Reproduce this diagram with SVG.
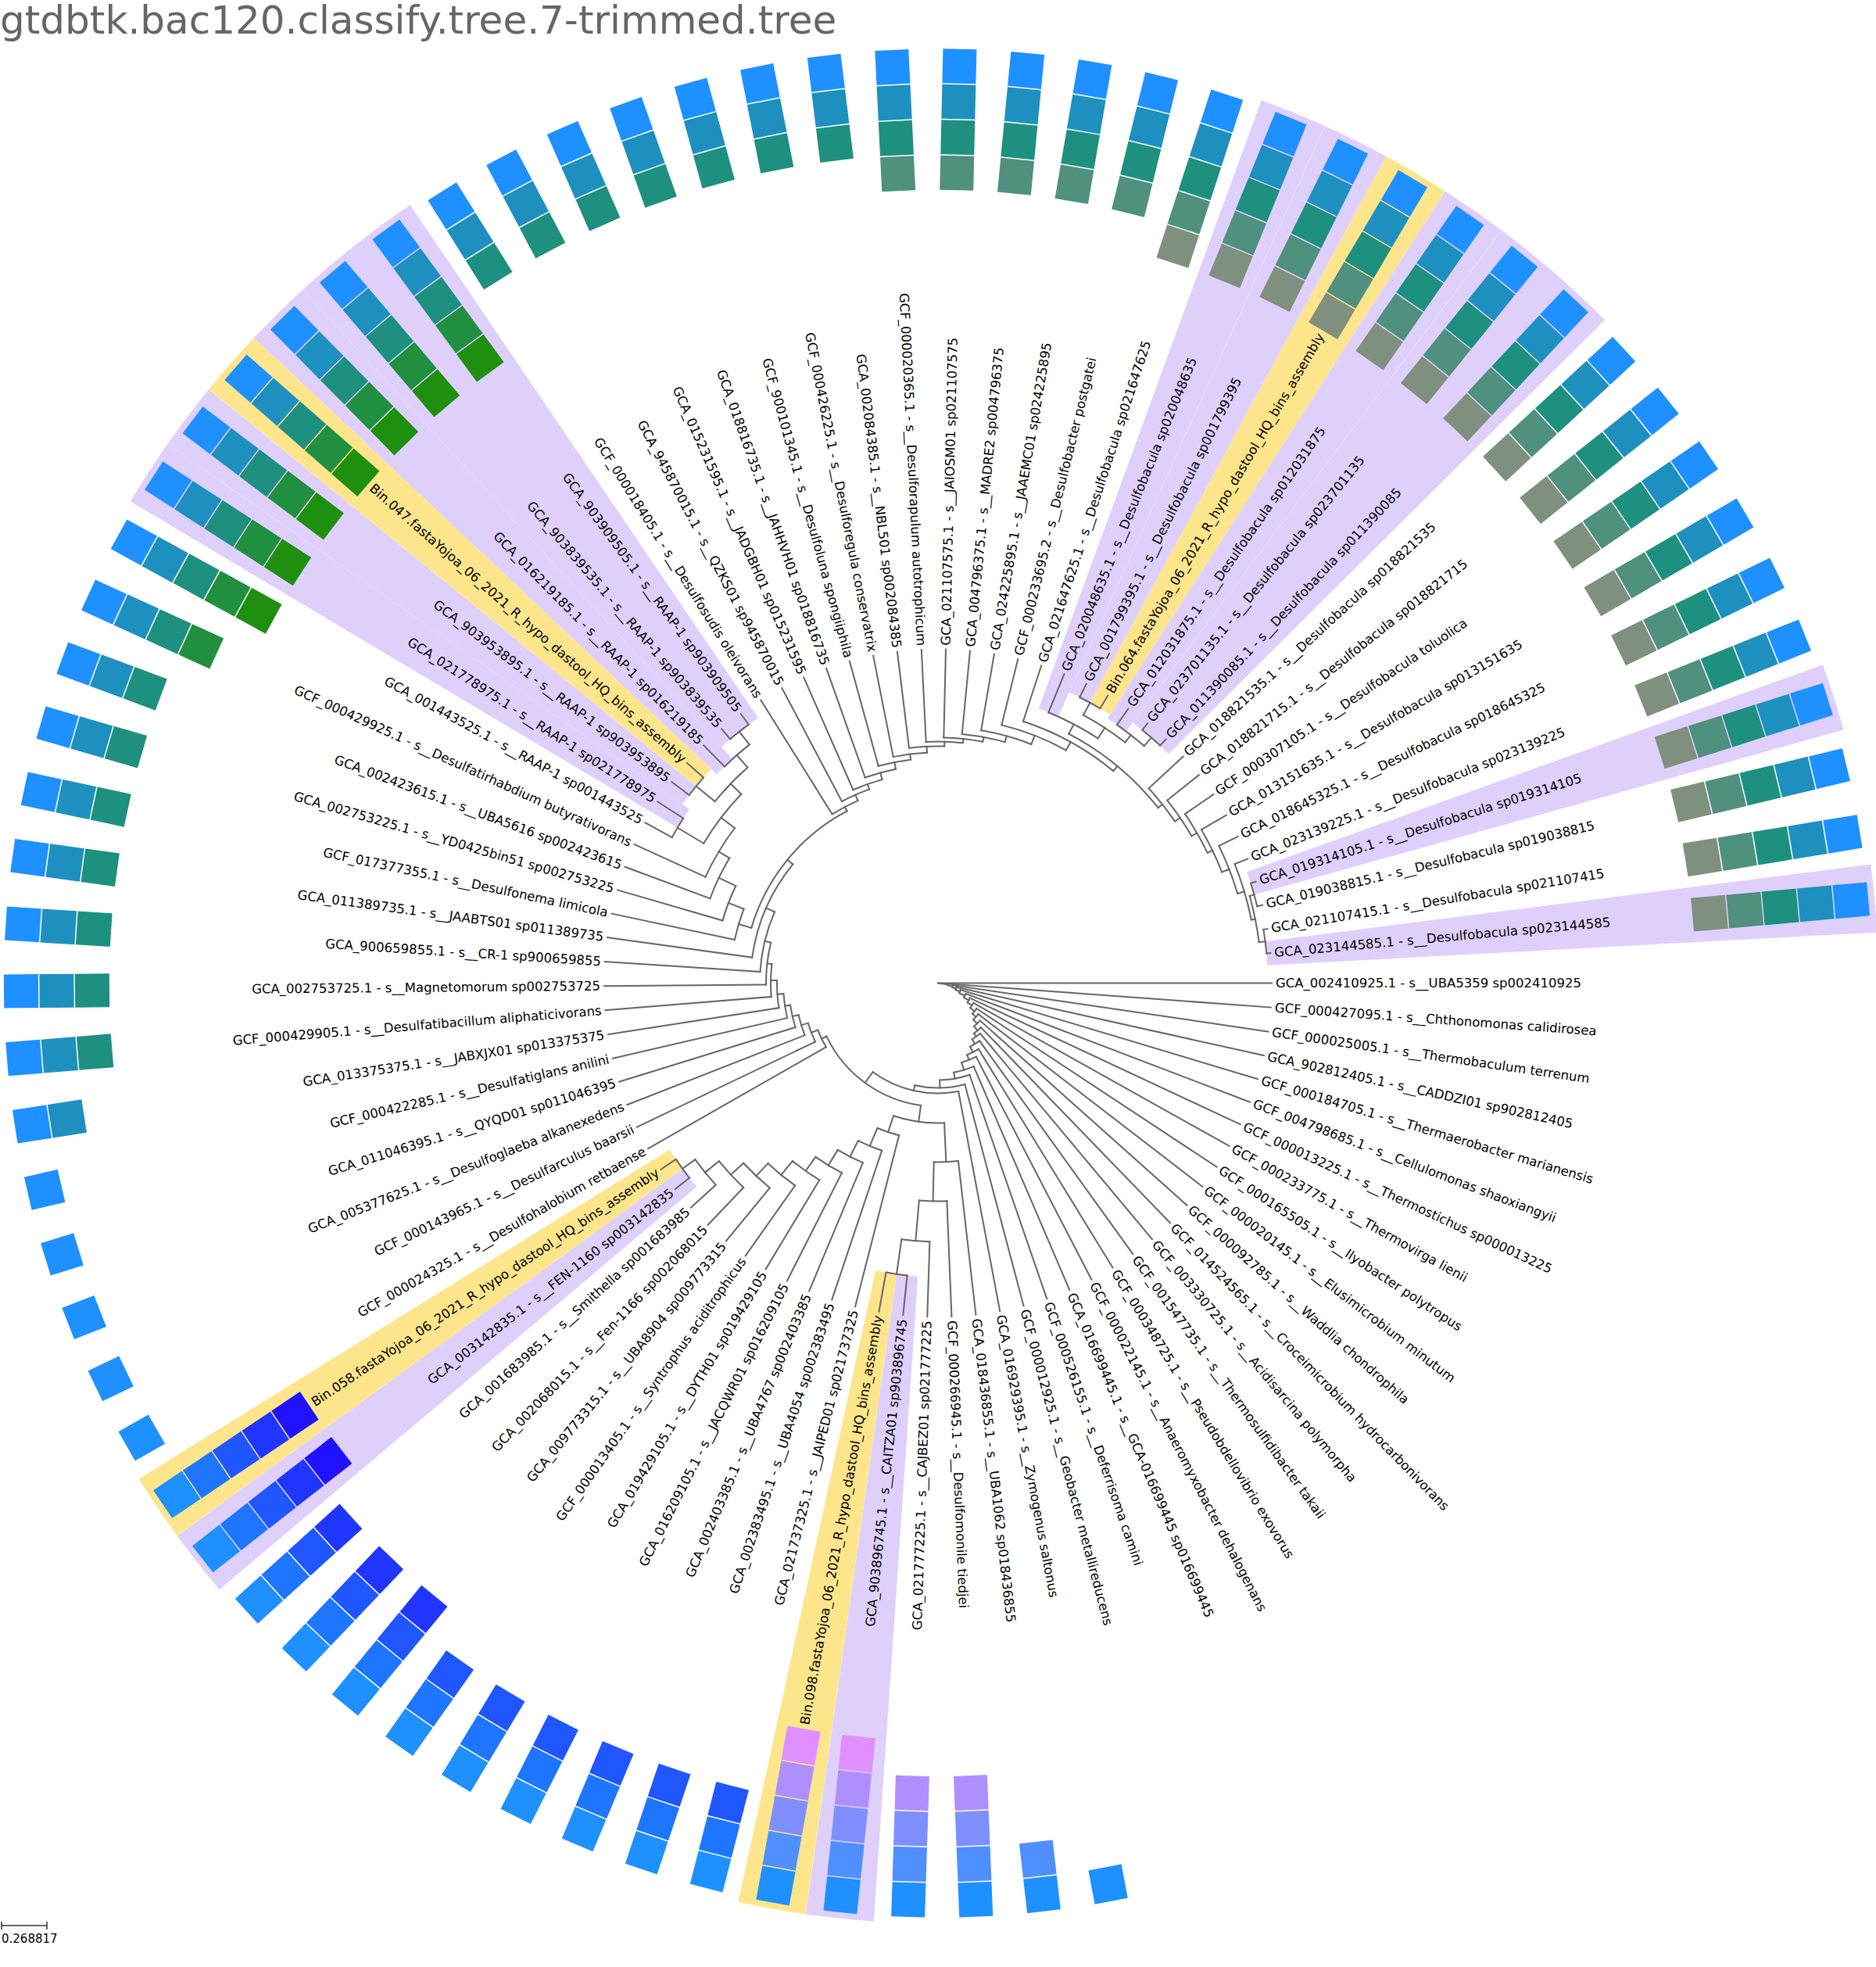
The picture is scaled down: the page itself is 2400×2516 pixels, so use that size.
<svg xmlns="http://www.w3.org/2000/svg" width="2400" height="2516" viewBox="0 0 2400 2516">
<style>
.lab{font-family:"DejaVu Sans","Liberation Sans",sans-serif;font-size:16.5px;fill:#000;dominant-baseline:central}
.flip{text-anchor:end}
#connectors line,#connectors circle{fill:none;stroke:#666;stroke-width:2;stroke-linecap:square}
.hp{fill:none;stroke:#DFD0FB}
.hy{fill:none;stroke:#FDE58B}
.t4{fill:#1E90FF}.t3{fill:#1E90BF}.t2{fill:#1E907F}.t1{fill:#4F907F}.t0{fill:#7F907F}
.g1{fill:#218F40}.g0{fill:#1F8F10}
.b3{fill:#1E76FF}.b2{fill:#2056FF}.b1{fill:#2036FF}.b0{fill:#2012FF}
.p3{fill:#508FFF}.p2{fill:#808FFF}.p1{fill:#AF8FFF}.p0{fill:#DF8FFF}
</style>
<defs><rect id="sq" y="-21.5" width="44" height="43"/></defs>
<rect width="2400" height="2516" fill="#fff"/>
<text x="0" y="43" font-family="DejaVu Sans, sans-serif" font-size="50" fill="#666">gtdbtk.bac120.classify.tree.7-trimmed.tree</text>
<g transform="translate(1200 1257.5)">
<g id="highlights">
<circle class="hp" r="789.5" stroke-width="827" pathLength="360" stroke-dasharray="4.174 400" transform="rotate(93.92)"/>
<circle class="hy" r="789.5" stroke-width="827" pathLength="360" stroke-dasharray="4.174 400" transform="rotate(98.1)"/>
<circle class="hp" r="803.5" stroke-width="799" pathLength="360" stroke-dasharray="4.174 400" transform="rotate(139.84)"/>
<circle class="hy" r="803.5" stroke-width="799" pathLength="360" stroke-dasharray="4.174 400" transform="rotate(144.02)"/>
<circle class="hp" r="795.5" stroke-width="815" pathLength="360" stroke-dasharray="4.174 400" transform="rotate(210.81)"/>
<circle class="hp" r="801" stroke-width="804" pathLength="360" stroke-dasharray="4.174 400" transform="rotate(214.98)"/>
<circle class="hy" r="801" stroke-width="804" pathLength="360" stroke-dasharray="4.174 400" transform="rotate(219.16)"/>
<circle class="hp" r="796" stroke-width="814" pathLength="360" stroke-dasharray="4.174 400" transform="rotate(223.33)"/>
<circle class="hp" r="806.5" stroke-width="793" pathLength="360" stroke-dasharray="8.35 400" transform="rotate(227.5)"/>
<circle class="hp" r="788.5" stroke-width="829" pathLength="360" stroke-dasharray="4.174 400" transform="rotate(290.12)"/>
<circle class="hp" r="805.5" stroke-width="795" pathLength="360" stroke-dasharray="4.174 400" transform="rotate(294.3)"/>
<circle class="hy" r="805.5" stroke-width="795" pathLength="360" stroke-dasharray="4.174 400" transform="rotate(298.47)"/>
<circle class="hp" r="802.5" stroke-width="801" pathLength="360" stroke-dasharray="4.174 400" transform="rotate(302.64)"/>
<circle class="hp" r="809.5" stroke-width="787" pathLength="360" stroke-dasharray="8.35 400" transform="rotate(306.82)"/>
<circle class="hp" r="811.5" stroke-width="783" pathLength="360" stroke-dasharray="4.174 400" transform="rotate(340.21)"/>
<circle class="hp" r="812.5" stroke-width="781" pathLength="360" stroke-dasharray="4.174 400" transform="rotate(352.74)"/>
</g>
<g id="connectors">
<line x1="0" x2="13" transform="rotate(8.35)"/><line x1="13" x2="19" transform="rotate(12.52)"/><line x1="19" x2="24" transform="rotate(16.7)"/><line x1="24" x2="30" transform="rotate(20.87)"/><line x1="30" x2="38" transform="rotate(25.05)"/><line x1="38" x2="45" transform="rotate(29.22)"/><line x1="45" x2="52" transform="rotate(33.4)"/><line x1="52" x2="59" transform="rotate(37.58)"/><line x1="59" x2="65" transform="rotate(41.76)"/><line x1="65" x2="72" transform="rotate(45.96)"/><line x1="72" x2="79" transform="rotate(50.17)"/><line x1="79" x2="84" transform="rotate(54.42)"/><line x1="84" x2="91" transform="rotate(58.74)"/><line x1="91" x2="99" transform="rotate(63.22)"/><line x1="99" x2="106" transform="rotate(68)"/><line x1="106" x2="116" transform="rotate(73.38)"/><line x1="116" x2="124" transform="rotate(79.96)"/><line x1="124" x2="134" transform="rotate(88.96)"/><line x1="134" x2="141" transform="rotate(102.77)"/><line x1="141" x2="158" transform="rotate(126.23)"/>
<line x1="158" x2="179" transform="rotate(97.97)"/><line x1="179" x2="229" transform="rotate(87.41)"/><line x1="229" x2="279" transform="rotate(91.32)"/><line x1="279" x2="331" transform="rotate(94.97)"/><line x1="331" x2="376" transform="rotate(98.1)"/>
<line x1="179" x2="201" transform="rotate(108.53)"/><line x1="201" x2="226" transform="rotate(112.7)"/><line x1="226" x2="249" transform="rotate(116.87)"/><line x1="249" x2="272" transform="rotate(121.03)"/><line x1="272" x2="294" transform="rotate(125.17)"/><line x1="294" x2="317" transform="rotate(129.28)"/><line x1="317" x2="339" transform="rotate(133.33)"/><line x1="339" x2="361" transform="rotate(137.24)"/><line x1="361" x2="384" transform="rotate(140.89)"/><line x1="384" x2="404" transform="rotate(144.02)"/>
<line x1="158" x2="165" transform="rotate(154.48)"/><line x1="165" x2="174" transform="rotate(158.68)"/><line x1="174" x2="183" transform="rotate(162.9)"/><line x1="183" x2="191" transform="rotate(167.16)"/><line x1="191" x2="198" transform="rotate(171.52)"/><line x1="198" x2="206" transform="rotate(176.05)"/><line x1="206" x2="214" transform="rotate(180.95)"/><line x1="214" x2="220" transform="rotate(186.57)"/><line x1="220" x2="228" transform="rotate(193.63)"/><line x1="228" x2="240" transform="rotate(203.58)"/><line x1="240" x2="249" transform="rotate(219.3)"/>
<line x1="249" x2="266" transform="rotate(196.48)"/><line x1="266" x2="287" transform="rotate(200.93)"/><line x1="287" x2="311" transform="rotate(205.66)"/><line x1="311" x2="327" transform="rotate(210.95)"/><line x1="327" x2="349" transform="rotate(217.34)"/><line x1="349" x2="388" transform="rotate(210.81)"/><line x1="349" x2="368" transform="rotate(223.86)"/><line x1="368" x2="399" transform="rotate(219.16)"/><line x1="368" x2="389" transform="rotate(228.55)"/><line x1="389" x2="410" transform="rotate(231.68)"/>
<line x1="249" x2="255" transform="rotate(242.12)"/><line x1="255" x2="263" transform="rotate(246.3)"/><line x1="263" x2="270" transform="rotate(250.48)"/><line x1="270" x2="279" transform="rotate(254.66)"/><line x1="279" x2="288" transform="rotate(258.84)"/><line x1="288" x2="295" transform="rotate(263.04)"/><line x1="295" x2="303" transform="rotate(267.27)"/><line x1="303" x2="309" transform="rotate(271.55)"/><line x1="309" x2="314" transform="rotate(275.93)"/><line x1="314" x2="320" transform="rotate(280.52)"/><line x1="320" x2="328" transform="rotate(285.52)"/><line x1="328" x2="340" transform="rotate(291.34)"/><line x1="340" x2="352" transform="rotate(298.81)"/><line x1="352" x2="360" transform="rotate(309.58)"/>
<line x1="360" x2="374" transform="rotate(297.69)"/><line x1="374" x2="390" transform="rotate(303.17)"/><line x1="390" x2="408" transform="rotate(298.47)"/><line x1="390" x2="402" transform="rotate(307.87)"/><line x1="402" x2="416" transform="rotate(311)"/>
<line x1="360" x2="367" transform="rotate(321.47)"/><line x1="367" x2="375" transform="rotate(325.67)"/><line x1="375" x2="383" transform="rotate(329.91)"/><line x1="383" x2="390" transform="rotate(334.22)"/><line x1="390" x2="400" transform="rotate(338.65)"/><line x1="400" x2="409" transform="rotate(343.35)"/><line x1="409" x2="414" transform="rotate(348.57)"/><line x1="414" x2="420" transform="rotate(344.39)"/><line x1="414" x2="422" transform="rotate(352.74)"/>
<circle r="13" pathLength="360" stroke-dasharray="8.35 400" transform="rotate(4.17)"/>
<circle r="19" pathLength="360" stroke-dasharray="8.35 400" transform="rotate(8.35)"/>
<circle r="24" pathLength="360" stroke-dasharray="8.35 400" transform="rotate(12.52)"/>
<circle r="30" pathLength="360" stroke-dasharray="8.35 400" transform="rotate(16.7)"/>
<circle r="38" pathLength="360" stroke-dasharray="8.35 400" transform="rotate(20.87)"/>
<circle r="45" pathLength="360" stroke-dasharray="8.35 400" transform="rotate(25.05)"/>
<circle r="52" pathLength="360" stroke-dasharray="8.36 400" transform="rotate(29.22)"/>
<circle r="59" pathLength="360" stroke-dasharray="8.36 400" transform="rotate(33.4)"/>
<circle r="65" pathLength="360" stroke-dasharray="8.39 400" transform="rotate(37.57)"/>
<circle r="72" pathLength="360" stroke-dasharray="8.43 400" transform="rotate(41.74)"/>
<circle r="79" pathLength="360" stroke-dasharray="8.5 400" transform="rotate(45.92)"/>
<circle r="84" pathLength="360" stroke-dasharray="8.65 400" transform="rotate(50.09)"/>
<circle r="91" pathLength="360" stroke-dasharray="8.95 400" transform="rotate(54.27)"/>
<circle r="99" pathLength="360" stroke-dasharray="9.56 400" transform="rotate(58.44)"/>
<circle r="106" pathLength="360" stroke-dasharray="10.76 400" transform="rotate(62.62)"/>
<circle r="116" pathLength="360" stroke-dasharray="13.17 400" transform="rotate(66.79)"/>
<circle r="124" pathLength="360" stroke-dasharray="17.99 400" transform="rotate(70.97)"/>
<circle r="134" pathLength="360" stroke-dasharray="27.63 400" transform="rotate(75.14)"/>
<circle r="141" pathLength="360" stroke-dasharray="46.92 400" transform="rotate(79.31)"/>
<circle r="158" pathLength="360" stroke-dasharray="56.51 400" transform="rotate(97.97)"/>
<circle r="179" pathLength="360" stroke-dasharray="21.12 400" transform="rotate(87.41)"/>
<circle r="229" pathLength="360" stroke-dasharray="7.83 400" transform="rotate(83.49)"/>
<circle r="279" pathLength="360" stroke-dasharray="7.31 400" transform="rotate(87.66)"/>
<circle r="331" pathLength="360" stroke-dasharray="6.26 400" transform="rotate(91.84)"/>
<circle r="376" pathLength="360" stroke-dasharray="4.18 400" transform="rotate(96.01)"/>
<circle r="201" pathLength="360" stroke-dasharray="8.34 400" transform="rotate(104.36)"/>
<circle r="226" pathLength="360" stroke-dasharray="8.34 400" transform="rotate(108.53)"/>
<circle r="249" pathLength="360" stroke-dasharray="8.32 400" transform="rotate(112.71)"/>
<circle r="272" pathLength="360" stroke-dasharray="8.29 400" transform="rotate(116.88)"/>
<circle r="294" pathLength="360" stroke-dasharray="8.22 400" transform="rotate(121.06)"/>
<circle r="317" pathLength="360" stroke-dasharray="8.1 400" transform="rotate(125.23)"/>
<circle r="339" pathLength="360" stroke-dasharray="7.83 400" transform="rotate(129.41)"/>
<circle r="361" pathLength="360" stroke-dasharray="7.31 400" transform="rotate(133.58)"/>
<circle r="384" pathLength="360" stroke-dasharray="6.26 400" transform="rotate(137.76)"/>
<circle r="404" pathLength="360" stroke-dasharray="4.17 400" transform="rotate(141.93)"/>
<circle r="165" pathLength="360" stroke-dasharray="8.4 400" transform="rotate(150.28)"/>
<circle r="174" pathLength="360" stroke-dasharray="8.45 400" transform="rotate(154.45)"/>
<circle r="183" pathLength="360" stroke-dasharray="8.53 400" transform="rotate(158.63)"/>
<circle r="191" pathLength="360" stroke-dasharray="8.72 400" transform="rotate(162.8)"/>
<circle r="198" pathLength="360" stroke-dasharray="9.07 400" transform="rotate(166.98)"/>
<circle r="206" pathLength="360" stroke-dasharray="9.8 400" transform="rotate(171.15)"/>
<circle r="214" pathLength="360" stroke-dasharray="11.24 400" transform="rotate(175.33)"/>
<circle r="220" pathLength="360" stroke-dasharray="14.13 400" transform="rotate(179.5)"/>
<circle r="228" pathLength="360" stroke-dasharray="19.91 400" transform="rotate(183.67)"/>
<circle r="240" pathLength="360" stroke-dasharray="31.45 400" transform="rotate(187.85)"/>
<circle r="249" pathLength="360" stroke-dasharray="45.64 400" transform="rotate(196.48)"/>
<circle r="266" pathLength="360" stroke-dasharray="8.91 400" transform="rotate(192.02)"/>
<circle r="287" pathLength="360" stroke-dasharray="9.46 400" transform="rotate(196.2)"/>
<circle r="311" pathLength="360" stroke-dasharray="10.58 400" transform="rotate(200.37)"/>
<circle r="327" pathLength="360" stroke-dasharray="12.79 400" transform="rotate(204.55)"/>
<circle r="349" pathLength="360" stroke-dasharray="13.05 400" transform="rotate(210.81)"/>
<circle r="388" pathLength="360" stroke-dasharray="4.18 400" transform="rotate(208.72)"/>
<circle r="368" pathLength="360" stroke-dasharray="9.39 400" transform="rotate(219.16)"/>
<circle r="399" pathLength="360" stroke-dasharray="4.17 400" transform="rotate(217.07)"/>
<circle r="389" pathLength="360" stroke-dasharray="6.26 400" transform="rotate(225.42)"/>
<circle r="410" pathLength="360" stroke-dasharray="4.18 400" transform="rotate(229.59)"/>
<circle r="255" pathLength="360" stroke-dasharray="8.36 400" transform="rotate(237.94)"/>
<circle r="263" pathLength="360" stroke-dasharray="8.36 400" transform="rotate(242.12)"/>
<circle r="270" pathLength="360" stroke-dasharray="8.37 400" transform="rotate(246.29)"/>
<circle r="279" pathLength="360" stroke-dasharray="8.37 400" transform="rotate(250.47)"/>
<circle r="288" pathLength="360" stroke-dasharray="8.4 400" transform="rotate(254.64)"/>
<circle r="295" pathLength="360" stroke-dasharray="8.46 400" transform="rotate(258.81)"/>
<circle r="303" pathLength="360" stroke-dasharray="8.56 400" transform="rotate(262.99)"/>
<circle r="309" pathLength="360" stroke-dasharray="8.77 400" transform="rotate(267.16)"/>
<circle r="314" pathLength="360" stroke-dasharray="9.18 400" transform="rotate(271.34)"/>
<circle r="320" pathLength="360" stroke-dasharray="10.01 400" transform="rotate(275.51)"/>
<circle r="328" pathLength="360" stroke-dasharray="11.65 400" transform="rotate(279.69)"/>
<circle r="340" pathLength="360" stroke-dasharray="14.95 400" transform="rotate(283.86)"/>
<circle r="352" pathLength="360" stroke-dasharray="21.55 400" transform="rotate(288.03)"/>
<circle r="360" pathLength="360" stroke-dasharray="23.78 400" transform="rotate(297.69)"/>
<circle r="374" pathLength="360" stroke-dasharray="10.96 400" transform="rotate(292.21)"/>
<circle r="390" pathLength="360" stroke-dasharray="9.4 400" transform="rotate(298.47)"/>
<circle r="408" pathLength="360" stroke-dasharray="4.18 400" transform="rotate(296.38)"/>
<circle r="402" pathLength="360" stroke-dasharray="6.27 400" transform="rotate(304.73)"/>
<circle r="416" pathLength="360" stroke-dasharray="4.17 400" transform="rotate(308.91)"/>
<circle r="367" pathLength="360" stroke-dasharray="8.41 400" transform="rotate(317.26)"/>
<circle r="375" pathLength="360" stroke-dasharray="8.48 400" transform="rotate(321.43)"/>
<circle r="383" pathLength="360" stroke-dasharray="8.62 400" transform="rotate(325.6)"/>
<circle r="390" pathLength="360" stroke-dasharray="8.87 400" transform="rotate(329.78)"/>
<circle r="400" pathLength="360" stroke-dasharray="9.4 400" transform="rotate(333.95)"/>
<circle r="409" pathLength="360" stroke-dasharray="10.44 400" transform="rotate(338.13)"/>
<circle r="414" pathLength="360" stroke-dasharray="8.35 400" transform="rotate(344.39)"/>
<circle r="420" pathLength="360" stroke-dasharray="4.18 400" transform="rotate(342.3)"/>
<circle r="422" pathLength="360" stroke-dasharray="4.18 400" transform="rotate(350.65)"/>
<line x1="0" x2="427" transform="rotate(0)"/><line x1="13" x2="427" transform="rotate(4.17)"/><line x1="19" x2="427" transform="rotate(8.35)"/><line x1="24" x2="427" transform="rotate(12.52)"/><line x1="30" x2="427" transform="rotate(16.7)"/><line x1="38" x2="427" transform="rotate(20.87)"/><line x1="45" x2="427" transform="rotate(25.05)"/><line x1="52" x2="427" transform="rotate(29.22)"/><line x1="59" x2="427" transform="rotate(33.4)"/><line x1="65" x2="427" transform="rotate(37.57)"/><line x1="72" x2="427" transform="rotate(41.74)"/><line x1="79" x2="427" transform="rotate(45.92)"/><line x1="84" x2="427" transform="rotate(50.09)"/><line x1="91" x2="427" transform="rotate(54.27)"/><line x1="99" x2="427" transform="rotate(58.44)"/><line x1="106" x2="427" transform="rotate(62.62)"/><line x1="116" x2="427" transform="rotate(66.79)"/><line x1="124" x2="427" transform="rotate(70.97)"/><line x1="134" x2="427" transform="rotate(75.14)"/><line x1="141" x2="427" transform="rotate(79.31)"/>
<line x1="229" x2="427" transform="rotate(83.49)"/><line x1="279" x2="427" transform="rotate(87.66)"/><line x1="331" x2="427" transform="rotate(91.84)"/><line x1="376" x2="427" transform="rotate(96.01)"/><line x1="376" x2="427" transform="rotate(100.19)"/>
<line x1="201" x2="427" transform="rotate(104.36)"/><line x1="226" x2="427" transform="rotate(108.53)"/><line x1="249" x2="427" transform="rotate(112.71)"/><line x1="272" x2="427" transform="rotate(116.88)"/><line x1="294" x2="427" transform="rotate(121.06)"/><line x1="317" x2="427" transform="rotate(125.23)"/><line x1="339" x2="427" transform="rotate(129.41)"/><line x1="361" x2="427" transform="rotate(133.58)"/><line x1="384" x2="427" transform="rotate(137.76)"/><line x1="404" x2="427" transform="rotate(141.93)"/><line x1="404" x2="427" transform="rotate(146.1)"/>
<line x1="165" x2="427" transform="rotate(150.28)"/><line x1="174" x2="427" transform="rotate(154.45)"/><line x1="183" x2="427" transform="rotate(158.63)"/><line x1="191" x2="427" transform="rotate(162.8)"/><line x1="198" x2="427" transform="rotate(166.98)"/><line x1="206" x2="427" transform="rotate(171.15)"/><line x1="214" x2="427" transform="rotate(175.33)"/><line x1="220" x2="427" transform="rotate(179.5)"/><line x1="228" x2="427" transform="rotate(183.67)"/><line x1="240" x2="427" transform="rotate(187.85)"/>
<line x1="266" x2="427" transform="rotate(192.02)"/><line x1="287" x2="427" transform="rotate(196.2)"/><line x1="311" x2="427" transform="rotate(200.37)"/><line x1="327" x2="427" transform="rotate(204.55)"/><line x1="388" x2="427" transform="rotate(208.72)"/><line x1="388" x2="427" transform="rotate(212.9)"/><line x1="399" x2="427" transform="rotate(217.07)"/><line x1="399" x2="427" transform="rotate(221.24)"/><line x1="389" x2="427" transform="rotate(225.42)"/><line x1="410" x2="427" transform="rotate(229.59)"/><line x1="410" x2="427" transform="rotate(233.77)"/>
<line x1="255" x2="427" transform="rotate(237.94)"/><line x1="263" x2="427" transform="rotate(242.12)"/><line x1="270" x2="427" transform="rotate(246.29)"/><line x1="279" x2="427" transform="rotate(250.47)"/><line x1="288" x2="427" transform="rotate(254.64)"/><line x1="295" x2="427" transform="rotate(258.81)"/><line x1="303" x2="427" transform="rotate(262.99)"/><line x1="309" x2="427" transform="rotate(267.16)"/><line x1="314" x2="427" transform="rotate(271.34)"/><line x1="320" x2="427" transform="rotate(275.51)"/><line x1="328" x2="427" transform="rotate(279.69)"/><line x1="340" x2="427" transform="rotate(283.86)"/><line x1="352" x2="427" transform="rotate(288.03)"/>
<line x1="374" x2="427" transform="rotate(292.21)"/><line x1="408" x2="427" transform="rotate(296.38)"/><line x1="408" x2="427" transform="rotate(300.56)"/><line x1="402" x2="427" transform="rotate(304.73)"/><line x1="416" x2="427" transform="rotate(308.91)"/><line x1="416" x2="427" transform="rotate(313.08)"/>
<line x1="367" x2="427" transform="rotate(317.26)"/><line x1="375" x2="427" transform="rotate(321.43)"/><line x1="383" x2="427" transform="rotate(325.6)"/><line x1="390" x2="427" transform="rotate(329.78)"/><line x1="400" x2="427" transform="rotate(333.95)"/><line x1="409" x2="427" transform="rotate(338.13)"/><line x1="420" x2="427" transform="rotate(342.3)"/><line x1="420" x2="427" transform="rotate(346.48)"/><line x1="422" x2="427" transform="rotate(350.65)"/><line x1="422" x2="427" transform="rotate(354.83)"/>
</g>
<g id="leaves">
<g id="leaf-01" transform="rotate(0)"><text class="lab" x="432">GCA_002410925.1 - s__UBA5359 sp002410925</text></g>
<g id="leaf-02" transform="rotate(4.17)"><text class="lab" x="432">GCF_000427095.1 - s__Chthonomonas calidirosea</text></g>
<g id="leaf-03" transform="rotate(8.35)"><text class="lab" x="432">GCF_000025005.1 - s__Thermobaculum terrenum</text></g>
<g id="leaf-04" transform="rotate(12.52)"><text class="lab" x="432">GCA_902812405.1 - s__CADDZI01 sp902812405</text></g>
<g id="leaf-05" transform="rotate(16.7)"><text class="lab" x="432">GCF_000184705.1 - s__Thermaerobacter marianensis</text></g>
<g id="leaf-06" transform="rotate(20.87)"><text class="lab" x="432">GCF_004798685.1 - s__Cellulomonas shaoxiangyii</text></g>
<g id="leaf-07" transform="rotate(25.05)"><text class="lab" x="432">GCF_000013225.1 - s__Thermostichus sp000013225</text></g>
<g id="leaf-08" transform="rotate(29.22)"><text class="lab" x="432">GCF_000233775.1 - s__Thermovirga lienii</text></g>
<g id="leaf-09" transform="rotate(33.4)"><text class="lab" x="432">GCF_000165505.1 - s__Ilyobacter polytropus</text></g>
<g id="leaf-10" transform="rotate(37.57)"><text class="lab" x="432">GCF_000020145.1 - s__Elusimicrobium minutum</text></g>
<g id="leaf-11" transform="rotate(41.74)"><text class="lab" x="432">GCF_000092785.1 - s__Waddlia chondrophila</text></g>
<g id="leaf-12" transform="rotate(45.92)"><text class="lab" x="432">GCF_014524565.1 - s__Croceimicrobium hydrocarbonivorans</text></g>
<g id="leaf-13" transform="rotate(50.09)"><text class="lab" x="432">GCF_003330725.1 - s__Acidisarcina polymorpha</text></g>
<g id="leaf-14" transform="rotate(54.27)"><text class="lab" x="432">GCF_001547735.1 - s__Thermosulfidibacter takaii</text></g>
<g id="leaf-15" transform="rotate(58.44)"><text class="lab" x="432">GCF_000348725.1 - s__Pseudobdellovibrio exovorus</text></g>
<g id="leaf-16" transform="rotate(62.62)"><text class="lab" x="432">GCF_000022145.1 - s__Anaeromyxobacter dehalogenans</text></g>
<g id="leaf-17" transform="rotate(66.79)"><text class="lab" x="432">GCA_016699445.1 - s__GCA-016699445 sp016699445</text></g>
<g id="leaf-18" transform="rotate(70.97)"><text class="lab" x="432">GCF_000526155.1 - s__Deferrisoma camini</text></g>
<g id="leaf-19" transform="rotate(75.14)"><text class="lab" x="432">GCF_000012925.1 - s__Geobacter metallireducens</text></g>
<g id="leaf-20" transform="rotate(79.31)"><text class="lab" x="432">GCA_016929395.1 - s__Zymogenus saltonus</text><use href="#sq" x="1151" class="t4"/></g>
<g id="leaf-21" transform="rotate(83.49)"><text class="lab" x="432">GCA_018436855.1 - s__UBA1062 sp018436855</text><use href="#sq" x="1151" class="t4"/><use href="#sq" x="1105.5" class="p3"/></g>
<g id="leaf-22" transform="rotate(87.66)"><text class="lab" x="432">GCF_000266945.1 - s__Desulfomonile tiedjei</text><use href="#sq" x="1151" class="t4"/><use href="#sq" x="1105.5" class="p3"/><use href="#sq" x="1060" class="p2"/><use href="#sq" x="1014.5" class="p1"/></g>
<g id="leaf-23" transform="rotate(91.84)"><text class="lab flip" x="432" transform="rotate(180 432 0)">GCA_021777225.1 - s__CAJBEZ01 sp021777225</text><use href="#sq" x="1151" class="t4"/><use href="#sq" x="1105.5" class="p3"/><use href="#sq" x="1060" class="p2"/><use href="#sq" x="1014.5" class="p1"/></g>
<g id="leaf-24" transform="rotate(96.01)"><text class="lab flip" x="432" transform="rotate(180 432 0)">GCA_903896745.1 - s__CAITZA01 sp903896745</text><use href="#sq" x="1151" class="t4"/><use href="#sq" x="1105.5" class="p3"/><use href="#sq" x="1060" class="p2"/><use href="#sq" x="1014.5" class="p1"/><use href="#sq" x="969" class="p0"/></g>
<g id="leaf-25" transform="rotate(100.19)"><text class="lab flip" x="432" transform="rotate(180 432 0)">Bin.098.fastaYojoa_06_2021_R_hypo_dastool_HQ_bins_assembly</text><use href="#sq" x="1151" class="t4"/><use href="#sq" x="1105.5" class="p3"/><use href="#sq" x="1060" class="p2"/><use href="#sq" x="1014.5" class="p1"/><use href="#sq" x="969" class="p0"/></g>
<g id="leaf-26" transform="rotate(104.36)"><text class="lab flip" x="432" transform="rotate(180 432 0)">GCA_021737325.1 - s__JAIPED01 sp021737325</text><use href="#sq" x="1151" class="t4"/><use href="#sq" x="1105.5" class="b3"/><use href="#sq" x="1060" class="b2"/></g>
<g id="leaf-27" transform="rotate(108.53)"><text class="lab flip" x="432" transform="rotate(180 432 0)">GCA_002383495.1 - s__UBA4054 sp002383495</text><use href="#sq" x="1151" class="t4"/><use href="#sq" x="1105.5" class="b3"/><use href="#sq" x="1060" class="b2"/></g>
<g id="leaf-28" transform="rotate(112.71)"><text class="lab flip" x="432" transform="rotate(180 432 0)">GCA_002403385.1 - s__UBA4767 sp002403385</text><use href="#sq" x="1151" class="t4"/><use href="#sq" x="1105.5" class="b3"/><use href="#sq" x="1060" class="b2"/></g>
<g id="leaf-29" transform="rotate(116.88)"><text class="lab flip" x="432" transform="rotate(180 432 0)">GCA_016209105.1 - s__JACQWR01 sp016209105</text><use href="#sq" x="1151" class="t4"/><use href="#sq" x="1105.5" class="b3"/><use href="#sq" x="1060" class="b2"/></g>
<g id="leaf-30" transform="rotate(121.06)"><text class="lab flip" x="432" transform="rotate(180 432 0)">GCA_019429105.1 - s__DYTH01 sp019429105</text><use href="#sq" x="1151" class="t4"/><use href="#sq" x="1105.5" class="b3"/><use href="#sq" x="1060" class="b2"/></g>
<g id="leaf-31" transform="rotate(125.23)"><text class="lab flip" x="432" transform="rotate(180 432 0)">GCF_000013405.1 - s__Syntrophus aciditrophicus</text><use href="#sq" x="1151" class="t4"/><use href="#sq" x="1105.5" class="b3"/><use href="#sq" x="1060" class="b2"/></g>
<g id="leaf-32" transform="rotate(129.41)"><text class="lab flip" x="432" transform="rotate(180 432 0)">GCA_009773315.1 - s__UBA8904 sp009773315</text><use href="#sq" x="1151" class="t4"/><use href="#sq" x="1105.5" class="b3"/><use href="#sq" x="1060" class="b2"/><use href="#sq" x="1014.5" class="b1"/></g>
<g id="leaf-33" transform="rotate(133.58)"><text class="lab flip" x="432" transform="rotate(180 432 0)">GCA_002068015.1 - s__Fen-1166 sp002068015</text><use href="#sq" x="1151" class="t4"/><use href="#sq" x="1105.5" class="b3"/><use href="#sq" x="1060" class="b2"/><use href="#sq" x="1014.5" class="b1"/></g>
<g id="leaf-34" transform="rotate(137.76)"><text class="lab flip" x="432" transform="rotate(180 432 0)">GCA_001683985.1 - s__Smithella sp001683985</text><use href="#sq" x="1151" class="t4"/><use href="#sq" x="1105.5" class="b3"/><use href="#sq" x="1060" class="b2"/><use href="#sq" x="1014.5" class="b1"/></g>
<g id="leaf-35" transform="rotate(141.93)"><text class="lab flip" x="432" transform="rotate(180 432 0)">GCA_003142835.1 - s__FEN-1160 sp003142835</text><use href="#sq" x="1151" class="t4"/><use href="#sq" x="1105.5" class="b3"/><use href="#sq" x="1060" class="b2"/><use href="#sq" x="1014.5" class="b1"/><use href="#sq" x="969" class="b0"/></g>
<g id="leaf-36" transform="rotate(146.1)"><text class="lab flip" x="432" transform="rotate(180 432 0)">Bin.058.fastaYojoa_06_2021_R_hypo_dastool_HQ_bins_assembly</text><use href="#sq" x="1151" class="t4"/><use href="#sq" x="1105.5" class="b3"/><use href="#sq" x="1060" class="b2"/><use href="#sq" x="1014.5" class="b1"/><use href="#sq" x="969" class="b0"/></g>
<g id="leaf-37" transform="rotate(150.28)"><text class="lab flip" x="432" transform="rotate(180 432 0)">GCF_000024325.1 - s__Desulfohalobium retbaense</text><use href="#sq" x="1151" class="t4"/></g>
<g id="leaf-38" transform="rotate(154.45)"><text class="lab flip" x="432" transform="rotate(180 432 0)">GCF_000143965.1 - s__Desulfarculus baarsii</text><use href="#sq" x="1151" class="t4"/></g>
<g id="leaf-39" transform="rotate(158.63)"><text class="lab flip" x="432" transform="rotate(180 432 0)">GCA_005377625.1 - s__Desulfoglaeba alkanexedens</text><use href="#sq" x="1151" class="t4"/></g>
<g id="leaf-40" transform="rotate(162.8)"><text class="lab flip" x="432" transform="rotate(180 432 0)">GCA_011046395.1 - s__QYQD01 sp011046395</text><use href="#sq" x="1151" class="t4"/></g>
<g id="leaf-41" transform="rotate(166.98)"><text class="lab flip" x="432" transform="rotate(180 432 0)">GCF_000422285.1 - s__Desulfatiglans anilini</text><use href="#sq" x="1151" class="t4"/></g>
<g id="leaf-42" transform="rotate(171.15)"><text class="lab flip" x="432" transform="rotate(180 432 0)">GCA_013375375.1 - s__JABXJX01 sp013375375</text><use href="#sq" x="1151" class="t4"/><use href="#sq" x="1105.5" class="t3"/></g>
<g id="leaf-43" transform="rotate(175.33)"><text class="lab flip" x="432" transform="rotate(180 432 0)">GCF_000429905.1 - s__Desulfatibacillum aliphaticivorans</text><use href="#sq" x="1151" class="t4"/><use href="#sq" x="1105.5" class="t3"/><use href="#sq" x="1060" class="t2"/></g>
<g id="leaf-44" transform="rotate(179.5)"><text class="lab flip" x="432" transform="rotate(180 432 0)">GCA_002753725.1 - s__Magnetomorum sp002753725</text><use href="#sq" x="1151" class="t4"/><use href="#sq" x="1105.5" class="t3"/><use href="#sq" x="1060" class="t2"/></g>
<g id="leaf-45" transform="rotate(183.67)"><text class="lab flip" x="432" transform="rotate(180 432 0)">GCA_900659855.1 - s__CR-1 sp900659855</text><use href="#sq" x="1151" class="t4"/><use href="#sq" x="1105.5" class="t3"/><use href="#sq" x="1060" class="t2"/></g>
<g id="leaf-46" transform="rotate(187.85)"><text class="lab flip" x="432" transform="rotate(180 432 0)">GCA_011389735.1 - s__JAABTS01 sp011389735</text><use href="#sq" x="1151" class="t4"/><use href="#sq" x="1105.5" class="t3"/><use href="#sq" x="1060" class="t2"/></g>
<g id="leaf-47" transform="rotate(192.02)"><text class="lab flip" x="432" transform="rotate(180 432 0)">GCF_017377355.1 - s__Desulfonema limicola</text><use href="#sq" x="1151" class="t4"/><use href="#sq" x="1105.5" class="t3"/><use href="#sq" x="1060" class="t2"/></g>
<g id="leaf-48" transform="rotate(196.2)"><text class="lab flip" x="432" transform="rotate(180 432 0)">GCA_002753225.1 - s__YD0425bin51 sp002753225</text><use href="#sq" x="1151" class="t4"/><use href="#sq" x="1105.5" class="t3"/><use href="#sq" x="1060" class="t2"/></g>
<g id="leaf-49" transform="rotate(200.37)"><text class="lab flip" x="432" transform="rotate(180 432 0)">GCA_002423615.1 - s__UBA5616 sp002423615</text><use href="#sq" x="1151" class="t4"/><use href="#sq" x="1105.5" class="t3"/><use href="#sq" x="1060" class="t2"/></g>
<g id="leaf-50" transform="rotate(204.55)"><text class="lab flip" x="432" transform="rotate(180 432 0)">GCF_000429925.1 - s__Desulfatirhabdium butyrativorans</text><use href="#sq" x="1151" class="t4"/><use href="#sq" x="1105.5" class="t3"/><use href="#sq" x="1060" class="t2"/><use href="#sq" x="1014.5" class="g1"/></g>
<g id="leaf-51" transform="rotate(208.72)"><text class="lab flip" x="432" transform="rotate(180 432 0)">GCA_001443525.1 - s__RAAP-1 sp001443525</text><use href="#sq" x="1151" class="t4"/><use href="#sq" x="1105.5" class="t3"/><use href="#sq" x="1060" class="t2"/><use href="#sq" x="1014.5" class="g1"/><use href="#sq" x="969" class="g0"/></g>
<g id="leaf-52" transform="rotate(212.9)"><text class="lab flip" x="432" transform="rotate(180 432 0)">GCA_021778975.1 - s__RAAP-1 sp021778975</text><use href="#sq" x="1151" class="t4"/><use href="#sq" x="1105.5" class="t3"/><use href="#sq" x="1060" class="t2"/><use href="#sq" x="1014.5" class="g1"/><use href="#sq" x="969" class="g0"/></g>
<g id="leaf-53" transform="rotate(217.07)"><text class="lab flip" x="432" transform="rotate(180 432 0)">GCA_903953895.1 - s__RAAP-1 sp903953895</text><use href="#sq" x="1151" class="t4"/><use href="#sq" x="1105.5" class="t3"/><use href="#sq" x="1060" class="t2"/><use href="#sq" x="1014.5" class="g1"/><use href="#sq" x="969" class="g0"/></g>
<g id="leaf-54" transform="rotate(221.24)"><text class="lab flip" x="432" transform="rotate(180 432 0)">Bin.047.fastaYojoa_06_2021_R_hypo_dastool_HQ_bins_assembly</text><use href="#sq" x="1151" class="t4"/><use href="#sq" x="1105.5" class="t3"/><use href="#sq" x="1060" class="t2"/><use href="#sq" x="1014.5" class="g1"/><use href="#sq" x="969" class="g0"/></g>
<g id="leaf-55" transform="rotate(225.42)"><text class="lab flip" x="432" transform="rotate(180 432 0)">GCA_016219185.1 - s__RAAP-1 sp016219185</text><use href="#sq" x="1151" class="t4"/><use href="#sq" x="1105.5" class="t3"/><use href="#sq" x="1060" class="t2"/><use href="#sq" x="1014.5" class="g1"/><use href="#sq" x="969" class="g0"/></g>
<g id="leaf-56" transform="rotate(229.59)"><text class="lab flip" x="432" transform="rotate(180 432 0)">GCA_903839535.1 - s__RAAP-1 sp903839535</text><use href="#sq" x="1151" class="t4"/><use href="#sq" x="1105.5" class="t3"/><use href="#sq" x="1060" class="t2"/><use href="#sq" x="1014.5" class="g1"/><use href="#sq" x="969" class="g0"/></g>
<g id="leaf-57" transform="rotate(233.77)"><text class="lab flip" x="432" transform="rotate(180 432 0)">GCA_903909505.1 - s__RAAP-1 sp903909505</text><use href="#sq" x="1151" class="t4"/><use href="#sq" x="1105.5" class="t3"/><use href="#sq" x="1060" class="t2"/><use href="#sq" x="1014.5" class="g1"/><use href="#sq" x="969" class="g0"/></g>
<g id="leaf-58" transform="rotate(237.94)"><text class="lab flip" x="432" transform="rotate(180 432 0)">GCF_000018405.1 - s__Desulfosudis oleivorans</text><use href="#sq" x="1151" class="t4"/><use href="#sq" x="1105.5" class="t3"/><use href="#sq" x="1060" class="t2"/></g>
<g id="leaf-59" transform="rotate(242.12)"><text class="lab flip" x="432" transform="rotate(180 432 0)">GCA_945870015.1 - s__QZKS01 sp945870015</text><use href="#sq" x="1151" class="t4"/><use href="#sq" x="1105.5" class="t3"/><use href="#sq" x="1060" class="t2"/></g>
<g id="leaf-60" transform="rotate(246.29)"><text class="lab flip" x="432" transform="rotate(180 432 0)">GCA_015231595.1 - s__JADGBH01 sp015231595</text><use href="#sq" x="1151" class="t4"/><use href="#sq" x="1105.5" class="t3"/><use href="#sq" x="1060" class="t2"/></g>
<g id="leaf-61" transform="rotate(250.47)"><text class="lab flip" x="432" transform="rotate(180 432 0)">GCA_018816735.1 - s__JAHHVH01 sp018816735</text><use href="#sq" x="1151" class="t4"/><use href="#sq" x="1105.5" class="t3"/><use href="#sq" x="1060" class="t2"/></g>
<g id="leaf-62" transform="rotate(254.64)"><text class="lab flip" x="432" transform="rotate(180 432 0)">GCF_900101345.1 - s__Desulfoluna spongiiphila</text><use href="#sq" x="1151" class="t4"/><use href="#sq" x="1105.5" class="t3"/><use href="#sq" x="1060" class="t2"/></g>
<g id="leaf-63" transform="rotate(258.81)"><text class="lab flip" x="432" transform="rotate(180 432 0)">GCF_000426225.1 - s__Desulforegula conservatrix</text><use href="#sq" x="1151" class="t4"/><use href="#sq" x="1105.5" class="t3"/><use href="#sq" x="1060" class="t2"/></g>
<g id="leaf-64" transform="rotate(262.99)"><text class="lab flip" x="432" transform="rotate(180 432 0)">GCA_002084385.1 - s__NBL501 sp002084385</text><use href="#sq" x="1151" class="t4"/><use href="#sq" x="1105.5" class="t3"/><use href="#sq" x="1060" class="t2"/></g>
<g id="leaf-65" transform="rotate(267.16)"><text class="lab flip" x="432" transform="rotate(180 432 0)">GCF_000020365.1 - s__Desulforapulum autotrophicum</text><use href="#sq" x="1151" class="t4"/><use href="#sq" x="1105.5" class="t3"/><use href="#sq" x="1060" class="t2"/><use href="#sq" x="1014.5" class="t1"/></g>
<g id="leaf-66" transform="rotate(271.34)"><text class="lab" x="432">GCA_021107575.1 - s__JAIOSM01 sp021107575</text><use href="#sq" x="1151" class="t4"/><use href="#sq" x="1105.5" class="t3"/><use href="#sq" x="1060" class="t2"/><use href="#sq" x="1014.5" class="t1"/></g>
<g id="leaf-67" transform="rotate(275.51)"><text class="lab" x="432">GCA_004796375.1 - s__MADRE2 sp004796375</text><use href="#sq" x="1151" class="t4"/><use href="#sq" x="1105.5" class="t3"/><use href="#sq" x="1060" class="t2"/><use href="#sq" x="1014.5" class="t1"/></g>
<g id="leaf-68" transform="rotate(279.69)"><text class="lab" x="432">GCA_024225895.1 - s__JAAEMC01 sp024225895</text><use href="#sq" x="1151" class="t4"/><use href="#sq" x="1105.5" class="t3"/><use href="#sq" x="1060" class="t2"/><use href="#sq" x="1014.5" class="t1"/></g>
<g id="leaf-69" transform="rotate(283.86)"><text class="lab" x="432">GCF_000233695.2 - s__Desulfobacter postgatei</text><use href="#sq" x="1151" class="t4"/><use href="#sq" x="1105.5" class="t3"/><use href="#sq" x="1060" class="t2"/><use href="#sq" x="1014.5" class="t1"/></g>
<g id="leaf-70" transform="rotate(288.03)"><text class="lab" x="432">GCA_021647625.1 - s__Desulfobacula sp021647625</text><use href="#sq" x="1151" class="t4"/><use href="#sq" x="1105.5" class="t3"/><use href="#sq" x="1060" class="t2"/><use href="#sq" x="1014.5" class="t1"/><use href="#sq" x="969" class="t0"/></g>
<g id="leaf-71" transform="rotate(292.21)"><text class="lab" x="432">GCA_020048635.1 - s__Desulfobacula sp020048635</text><use href="#sq" x="1151" class="t4"/><use href="#sq" x="1105.5" class="t3"/><use href="#sq" x="1060" class="t2"/><use href="#sq" x="1014.5" class="t1"/><use href="#sq" x="969" class="t0"/></g>
<g id="leaf-72" transform="rotate(296.38)"><text class="lab" x="432">GCA_001799395.1 - s__Desulfobacula sp001799395</text><use href="#sq" x="1151" class="t4"/><use href="#sq" x="1105.5" class="t3"/><use href="#sq" x="1060" class="t2"/><use href="#sq" x="1014.5" class="t1"/><use href="#sq" x="969" class="t0"/></g>
<g id="leaf-73" transform="rotate(300.56)"><text class="lab" x="432">Bin.064.fastaYojoa_06_2021_R_hypo_dastool_HQ_bins_assembly</text><use href="#sq" x="1151" class="t4"/><use href="#sq" x="1105.5" class="t3"/><use href="#sq" x="1060" class="t2"/><use href="#sq" x="1014.5" class="t1"/><use href="#sq" x="969" class="t0"/></g>
<g id="leaf-74" transform="rotate(304.73)"><text class="lab" x="432">GCA_012031875.1 - s__Desulfobacula sp012031875</text><use href="#sq" x="1151" class="t4"/><use href="#sq" x="1105.5" class="t3"/><use href="#sq" x="1060" class="t2"/><use href="#sq" x="1014.5" class="t1"/><use href="#sq" x="969" class="t0"/></g>
<g id="leaf-75" transform="rotate(308.91)"><text class="lab" x="432">GCA_023701135.1 - s__Desulfobacula sp023701135</text><use href="#sq" x="1151" class="t4"/><use href="#sq" x="1105.5" class="t3"/><use href="#sq" x="1060" class="t2"/><use href="#sq" x="1014.5" class="t1"/><use href="#sq" x="969" class="t0"/></g>
<g id="leaf-76" transform="rotate(313.08)"><text class="lab" x="432">GCA_011390085.1 - s__Desulfobacula sp011390085</text><use href="#sq" x="1151" class="t4"/><use href="#sq" x="1105.5" class="t3"/><use href="#sq" x="1060" class="t2"/><use href="#sq" x="1014.5" class="t1"/><use href="#sq" x="969" class="t0"/></g>
<g id="leaf-77" transform="rotate(317.26)"><text class="lab" x="432">GCA_018821535.1 - s__Desulfobacula sp018821535</text><use href="#sq" x="1151" class="t4"/><use href="#sq" x="1105.5" class="t3"/><use href="#sq" x="1060" class="t2"/><use href="#sq" x="1014.5" class="t1"/><use href="#sq" x="969" class="t0"/></g>
<g id="leaf-78" transform="rotate(321.43)"><text class="lab" x="432">GCA_018821715.1 - s__Desulfobacula sp018821715</text><use href="#sq" x="1151" class="t4"/><use href="#sq" x="1105.5" class="t3"/><use href="#sq" x="1060" class="t2"/><use href="#sq" x="1014.5" class="t1"/><use href="#sq" x="969" class="t0"/></g>
<g id="leaf-79" transform="rotate(325.6)"><text class="lab" x="432">GCF_000307105.1 - s__Desulfobacula toluolica</text><use href="#sq" x="1151" class="t4"/><use href="#sq" x="1105.5" class="t3"/><use href="#sq" x="1060" class="t2"/><use href="#sq" x="1014.5" class="t1"/><use href="#sq" x="969" class="t0"/></g>
<g id="leaf-80" transform="rotate(329.78)"><text class="lab" x="432">GCA_013151635.1 - s__Desulfobacula sp013151635</text><use href="#sq" x="1151" class="t4"/><use href="#sq" x="1105.5" class="t3"/><use href="#sq" x="1060" class="t2"/><use href="#sq" x="1014.5" class="t1"/><use href="#sq" x="969" class="t0"/></g>
<g id="leaf-81" transform="rotate(333.95)"><text class="lab" x="432">GCA_018645325.1 - s__Desulfobacula sp018645325</text><use href="#sq" x="1151" class="t4"/><use href="#sq" x="1105.5" class="t3"/><use href="#sq" x="1060" class="t2"/><use href="#sq" x="1014.5" class="t1"/><use href="#sq" x="969" class="t0"/></g>
<g id="leaf-82" transform="rotate(338.13)"><text class="lab" x="432">GCA_023139225.1 - s__Desulfobacula sp023139225</text><use href="#sq" x="1151" class="t4"/><use href="#sq" x="1105.5" class="t3"/><use href="#sq" x="1060" class="t2"/><use href="#sq" x="1014.5" class="t1"/><use href="#sq" x="969" class="t0"/></g>
<g id="leaf-83" transform="rotate(342.3)"><text class="lab" x="432">GCA_019314105.1 - s__Desulfobacula sp019314105</text><use href="#sq" x="1151" class="t4"/><use href="#sq" x="1105.5" class="t3"/><use href="#sq" x="1060" class="t2"/><use href="#sq" x="1014.5" class="t1"/><use href="#sq" x="969" class="t0"/></g>
<g id="leaf-84" transform="rotate(346.48)"><text class="lab" x="432">GCA_019038815.1 - s__Desulfobacula sp019038815</text><use href="#sq" x="1151" class="t4"/><use href="#sq" x="1105.5" class="t3"/><use href="#sq" x="1060" class="t2"/><use href="#sq" x="1014.5" class="t1"/><use href="#sq" x="969" class="t0"/></g>
<g id="leaf-85" transform="rotate(350.65)"><text class="lab" x="432">GCA_021107415.1 - s__Desulfobacula sp021107415</text><use href="#sq" x="1151" class="t4"/><use href="#sq" x="1105.5" class="t3"/><use href="#sq" x="1060" class="t2"/><use href="#sq" x="1014.5" class="t1"/><use href="#sq" x="969" class="t0"/></g>
<g id="leaf-86" transform="rotate(354.83)"><text class="lab" x="432">GCA_023144585.1 - s__Desulfobacula sp023144585</text><use href="#sq" x="1151" class="t4"/><use href="#sq" x="1105.5" class="t3"/><use href="#sq" x="1060" class="t2"/><use href="#sq" x="1014.5" class="t1"/><use href="#sq" x="969" class="t0"/></g>
</g>
</g>
<g id="scale-bar">
<path d="M2 2463H60M2 2458V2468M60 2458V2468" fill="none" stroke="#333" stroke-width="1.5"/>
<text x="2" y="2485" font-family="DejaVu Sans, sans-serif" font-size="15" fill="#000">0.268817</text>
</g>
</svg>
